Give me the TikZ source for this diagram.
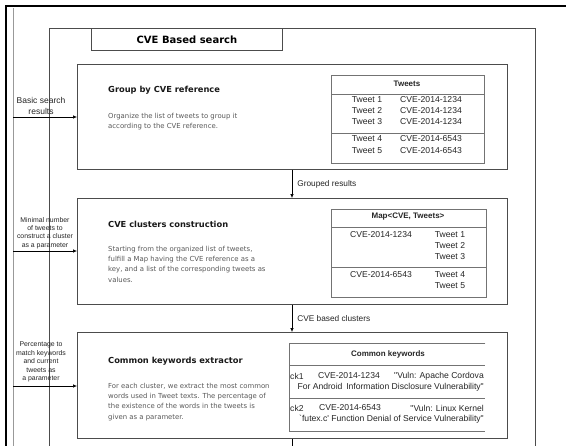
\documentclass[tikz,border=0pt]{standalone}
\usepackage{fontspec}
\setmainfont{DejaVu Sans}
\newfontfamily\tabfont{Liberation Sans}
\usetikzlibrary{arrows.meta,positioning}

\begin{document}
\begin{tikzpicture}[x=1pt,y=-1pt,
	box/.style={draw=black!70,line width=0.9pt,anchor=north west,inner sep=0pt},
	tbl/.style={draw=black!55,line width=0.7pt,anchor=north west,inner sep=0pt},
	flow/.style={-{Latex[length=4pt,width=3.5pt]},line width=0.6pt},
	cell/.style={font=\tabfont\fontsize{8.6}{10}\selectfont,text=black!85,inner sep=0pt},
	head/.style={cell,font=\tabfont\bfseries\fontsize{8}{10}\selectfont},
	side/.style={font=\tabfont\fontsize{6.9}{8.4}\selectfont,text=black!85,align=center,inner sep=0pt},
	boxtitle/.style={font=\bfseries\fontsize{8.3}{10}\selectfont,text=black!90,anchor=west,inner sep=0pt},
	boxtext/.style={font=\fontsize{6.9}{10.2}\selectfont,text=black!65,align=left,anchor=north west,inner sep=0pt}]

	\clip (0,0) rectangle (568,445);
	\fill[white] (0,0) rectangle (568,445);

	% page frame and lane
	\draw[line width=2pt] (6,450) -- (6,6) -- (566,6);
	\draw[black!40,line width=1pt] (13,8) -- (13,450);

	% search frame
	\draw[black!70,line width=0.8pt] (49,450) -- (49,28) -- (535,28) -- (535,450);
	\node[box,minimum width=191pt,minimum height=22pt,font=\bfseries\fontsize{10}{12}\selectfont] (title) at (91,28) {CVE Based search};

	% steps
	\node[box,minimum width=430pt,minimum height=105pt] (group) at (77,64) {};
	\node[box,minimum width=430pt,minimum height=106pt] (clusters) at (77,198) {};
	\node[box,minimum width=430pt,minimum height=106pt] (keywords) at (77,332) {};

	\node[boxtitle] (grouptitle) at (108,90) {Group by CVE reference};
	\node[boxtext] (groupdesc) at (108,113) {Organize the list of tweets to group it\\according to the CVE reference.};
	\node[boxtitle] (clusterstitle) at (108,224) {CVE clusters construction};
	\node[boxtext] (clustersdesc) at (108,246) {Starting from the organized list of tweets,\\fulfill a Map having the CVE reference as a\\key, and a list of the corresponding tweets as\\values.};
	\node[boxtitle] (keywordstitle) at (108,361) {Common keywords extractor};
	\node[boxtext] (keywordsdesc) at (108,383) {For each cluster, we extract the most common\\words used in Tweet texts. The percentage of\\the existence of the words in the tweets is\\given as a parameter.};

	% tweets table
	\node[tbl,minimum width=153pt,minimum height=88pt] (tweets) at (331,75) {};
	\draw[black!55,line width=0.7pt] ([yshift=-19pt]tweets.north west) -- ([yshift=-19pt]tweets.north east);
	\draw[black!55,line width=0.7pt] ([yshift=-58pt]tweets.north west) -- ([yshift=-58pt]tweets.north east);
	\node[head] (tweetshead) at (407,84) {Tweets};
	\foreach \i/\y/\c in {1/100/1234,2/111/1234,3/122/1234,4/139/6543,5/151/6543}{
		\node[cell] (tw\i) at (367,\y) {Tweet \i};
		\node[cell] (cv\i) at (431,\y) {CVE-2014-\c};
	}

	% map table
	\node[tbl,minimum width=155pt,minimum height=88pt] (map) at (331,209) {};
	\draw[black!55,line width=0.7pt] ([yshift=-18pt]map.north west) -- ([yshift=-18pt]map.north east);
	\draw[black!55,line width=0.7pt] ([yshift=-58pt]map.north west) -- ([yshift=-58pt]map.north east);
	\node[head] (maphead) at (408,217) {Map<CVE, Tweets>};
	\node[cell] (mapcve1) at (381,235) {CVE-2014-1234};
	\node[cell] (mapcve2) at (381,275) {CVE-2014-6543};
	\foreach \i/\y in {1/235,2/246,3/257,4/275,5/286}
		\node[cell] (mtw\i) at (450,\y) {Tweet \i};

	% keywords table
	\node[anchor=north west,inner sep=0pt,minimum width=196pt,minimum height=88pt] (kw) at (289,343) {};
	\draw[black!55,line width=0.7pt] (kw.north east) -- (kw.north west) -- (kw.south west) -- (kw.south east);
	\draw[black!55,line width=0.7pt] ([yshift=-22pt]kw.north west) -- ([yshift=-22pt]kw.north east);
	\draw[black!55,line width=0.7pt] ([yshift=-55pt]kw.north west) -- ([yshift=-55pt]kw.north east);
	\node[head] (kwhead) at (388,354) {Common keywords};
	\node[cell,anchor=west] (ck1) at (290,376) {ck1};
	\node[cell] (ckcve1) at (349,376) {CVE-2014-1234};
	\node[cell,anchor=east] (ckvuln1) at (484,376) {"Vuln: Apache Cordova};
	\node[cell,anchor=east] (ckrest1) at (484,387) {For Android\, Information Disclosure Vulnerability"};
	\node[cell,anchor=west] (ck2) at (290,408) {ck2};
	\node[cell] (ckcve2) at (350,408) {CVE-2014-6543};
	\node[cell,anchor=east] (ckvuln2) at (484,408) {"Vuln: Linux Kernel};
	\node[cell,anchor=east] (ckrest2) at (484,419) {`futex.c' Function Denial of Service Vulnerability"};

	% inputs
	\coordinate (in1) at (13,117);
	\coordinate (in2) at (13,251);
	\coordinate (in3) at (13,386);
	\draw[flow] (in1) -- (group.west |- in1);
	\draw[flow] (in2) -- (clusters.west |- in2);
	\draw[flow] (in3) -- (keywords.west |- in3);
	\node[side,font=\tabfont\fontsize{8.5}{10.8}\selectfont] (in1label) at (41,106) {Basic search\\results};
	\node[side] (in2label) at (45,233) {Minimal number\\of tweets to\\construct a cluster\\as a parameter};
	\node[side] (in3label) at (41,362) {Percentage to\\match keywords\\and current\\tweets as\\a parameter};

	% flow between steps
	\coordinate (mid) at (292,0);
	\draw[flow] (group.south -| mid) -- (clusters.north -| mid)
		node[cell,midway,right=5pt,font=\tabfont\fontsize{8.3}{10}\selectfont] (grouped) {Grouped results};
	\draw[flow] (clusters.south -| mid) -- (keywords.north -| mid)
		node[cell,midway,right=5pt,font=\tabfont\fontsize{8.3}{10}\selectfont] (cvebased) {CVE based clusters};
	\draw[line width=0.6pt] (keywords.south -| mid) -- ++(0,15);
\end{tikzpicture}
\end{document}
